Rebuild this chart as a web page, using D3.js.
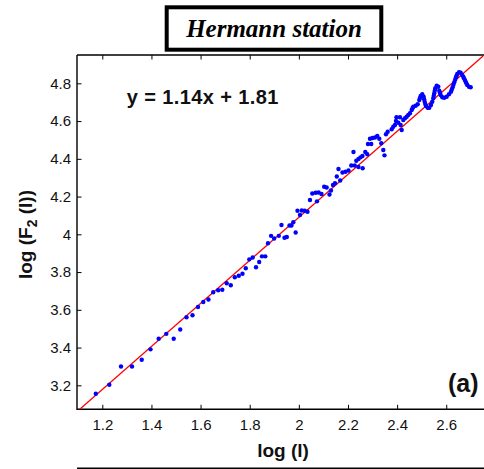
<!DOCTYPE html>
<html><head><meta charset="utf-8">
<script src="https://cdn.jsdelivr.net/npm/d3@7"></script>
<style>body{margin:0;background:#fff}svg{display:block}</style>
</head><body><svg id="c" width="484" height="469"></svg>
<script>
// x: log(l), y: log(F2(l))
const logL = [1.1735,1.2285,1.2761,1.3209,1.3604,1.3962,1.4295,1.4605,1.4906,1.5171,1.5427,1.5671,1.5895,1.6111,1.6322,1.6514,1.6717,1.6884,1.7063,1.7230,1.7393,1.7556,1.7706,1.7840,1.7983,1.8121,1.8256,1.8386,1.8500,1.8634,1.8744,1.8870,1.8996,1.9184,1.9293,1.9416,1.9509,1.9619,1.9700,1.9774,1.9871,1.9945,2.0046,2.0120,2.0238,2.0352,2.0453,2.0547,2.0685,2.0738,2.0807,2.0921,2.1031,2.1133,2.1247,2.1308,2.1390,2.1471,2.1544,2.1613,2.1683,2.1776,2.1898,2.2020,2.2134,2.2224,2.2277,2.2338,2.2427,2.2509,2.2590,2.2427,2.2598,2.2704,2.2786,2.2814,2.2895,2.2948,2.2997,2.3099,2.3193,2.3274,2.3355,2.3437,2.3486,2.3547,2.3616,2.3779,2.3844,2.3913,2.3954,2.3974,2.4047,2.4116,2.4145,2.4186,2.4251,2.4320,2.4389,
2.4454,2.4523,2.4593,2.4625,2.4658,2.4755,2.4837,2.4902,2.4930,2.4959,2.5024,2.5081,2.5101,2.5122,2.5146,2.5175,2.5244,2.5309,2.5378,2.5431,2.5472,2.5492,2.5513,2.5533,2.5553,2.5610,2.5675,2.5716,2.5744,2.5773,2.5838,2.5920,2.6017,2.6111,2.6192,2.6225,2.6261,2.6294,2.6326,2.6363,2.6396,2.6424,2.6449,2.6518,2.6587,2.6652,2.6689,2.6721,2.6758,2.6790,2.6823,2.6855,2.6925,2.6994];
const logF2 = [3.155,3.203,3.2996,3.2996,3.3356,3.3907,3.4464,3.4728,3.4464,3.4956,3.5603,3.5709,3.6148,3.6413,3.6546,3.6932,3.7038,3.7060,3.7409,3.7298,3.7727,3.7807,3.7913,3.8199,3.8675,3.8771,3.8252,3.8532,3.8834,3.8834,3.9523,3.9920,3.9777,3.9920,4.0493,3.9820,3.9857,4.0466,4.0466,4.0636,4.0095,4.1250,4.1022,4.1261,4.1250,4.1192,4.1817,4.2162,4.2204,4.1748,4.2214,4.2135,4.2522,4.2479,4.2109,4.2321,4.2612,4.2702,4.3062,4.3460,4.2850,4.3274,4.3311,4.3380,4.3645,4.4360,4.3645,4.3899,4.3989,4.4079,4.4148,4.3566,4.3497,4.4360,4.4238,4.4784,4.5065,4.4784,4.5102,4.5128,4.5208,4.5065,4.4821,4.4466,4.4185,4.5298,4.5436,4.5563,4.5700,4.5791,4.6003,4.6199,4.5912,4.6199,4.5791,4.5526,4.6056,4.6146,4.6231,
4.6320,4.6411,4.6586,4.6675,4.6760,4.6813,4.6887,4.7115,4.7221,4.7327,4.7417,4.7290,4.7158,4.7025,4.6904,4.6797,4.6707,4.6707,4.6850,4.7025,4.7205,4.7338,4.7470,4.7603,4.7735,4.7873,4.7820,4.7608,4.7497,4.7380,4.7258,4.7237,4.7290,4.7417,4.7555,4.7671,4.7788,4.7921,4.8053,4.8185,4.8318,4.8408,4.8493,4.8583,4.8562,4.8440,4.8355,4.8265,4.8175,4.8085,4.7995,4.7910,4.7820,4.7788];
const xTicks = [1.2,1.4,1.6,1.8,2,2.2,2.4,2.6];
const yTicks = [3.2,3.4,3.6,3.8,4,4.2,4.4,4.6,4.8];
const fitSlope = 1.14, fitIntercept = 1.81;
const titleText = "Hermann station";
const eqText = "y = 1.14x + 1.81";
const panelText = "(a)";

const svg = d3.select("#c");
const L = 77, R = 483.1, T = 55, B = 409.3;
const x = d3.scaleLinear().domain([1.097, 2.75]).range([L, R]);
const y = d3.scaleLinear().domain([3.073, 4.95]).range([B, T]);

svg.append("defs").append("clipPath").attr("id","clip")
  .append("rect").attr("x",L).attr("y",T).attr("width",484-L).attr("height",B-T);

// axes
const fmt = d => d3.format("")(d);
const gx = svg.append("g").attr("transform",`translate(0,${B})`)
  .call(d3.axisBottom(x).tickValues(xTicks).tickSize(-4.5).tickPadding(10).tickFormat(fmt));
const gxt = svg.append("g").attr("transform",`translate(0,${T})`)
  .call(d3.axisTop(x).tickValues(xTicks).tickSize(-4.5).tickFormat(""));
const gy = svg.append("g").attr("transform",`translate(${L},0)`)
  .call(d3.axisLeft(y).tickValues(yTicks).tickSize(-4.5).tickPadding(6).tickFormat(fmt));
[gx,gxt,gy].forEach(g=>{
  g.select(".domain").remove();
  g.selectAll("line").attr("stroke","#000").attr("stroke-width",1);
  g.selectAll("text").attr("font-family","'Liberation Sans', Arial, sans-serif").attr("font-size",15).attr("fill","#111");
});
gx.selectAll("text").attr("dy","0.71em");
svg.append("path").attr("d",`M${L},${T}H484M${L},${T}V${B}H484`)
  .attr("fill","none").attr("stroke","#000").attr("stroke-width",1.4);

// fit line
svg.append("line").attr("clip-path","url(#clip)")
  .attr("x1",x(1.097)).attr("y1",y(fitSlope*1.097+fitIntercept))
  .attr("x2",x(2.75)).attr("y2",y(fitSlope*2.75+fitIntercept))
  .attr("stroke","#ff0000").attr("stroke-width",1.3);

// points
svg.append("g").selectAll("circle").data(d3.range(logL.length)).join("circle")
  .attr("cx",i=>x(logL[i])).attr("cy",i=>y(logF2[i])).attr("r",2.2).attr("fill","#0000ff");

// title box
svg.append("rect").attr("x",166.7).attr("y",7.3).attr("width",214.6).attr("height",42.4)
  .attr("fill","#fff").attr("stroke","#000").attr("stroke-width",4);
svg.append("text").attr("x",274).attr("y",36.5).attr("text-anchor","middle")
  .attr("font-family","'Liberation Serif','Times New Roman',serif").attr("font-weight","bold")
  .attr("font-style","italic").attr("font-size",25).text(titleText);

// equation
svg.append("text").attr("x",126.7).attr("y",103.8)
  .attr("font-family","'Liberation Sans', Arial, sans-serif").attr("font-weight","bold")
  .attr("font-size",20).attr("letter-spacing",0.4).attr("fill","#111").text(eqText);

// panel label
svg.append("text").attr("x",478.5).attr("y",391.5).attr("text-anchor","end")
  .attr("font-family","'Liberation Sans', Arial, sans-serif").attr("font-weight","bold")
  .attr("font-size",25).attr("fill","#111").text(panelText);

// axis labels
svg.append("text").attr("x",283).attr("y",457).attr("text-anchor","middle")
  .attr("font-family","'Liberation Sans', Arial, sans-serif").attr("font-weight","bold")
  .attr("font-size",19).attr("fill","#111").text("log (l)");
const yl = svg.append("text").attr("transform","translate(32,234.5) rotate(-90)").attr("text-anchor","middle")
  .attr("font-family","'Liberation Sans', Arial, sans-serif").attr("font-weight","bold")
  .attr("font-size",19).attr("fill","#111");
yl.append("tspan").text("log (F");
yl.append("tspan").attr("font-size",14).attr("dy",5).text("2");
yl.append("tspan").attr("dy",-5).text(" (l))");

// bottom rule
svg.append("line").attr("x1",L).attr("x2",484).attr("y1",468.3).attr("y2",468.3)
  .attr("stroke","#000").attr("stroke-width",1.5);
</script></body></html>
